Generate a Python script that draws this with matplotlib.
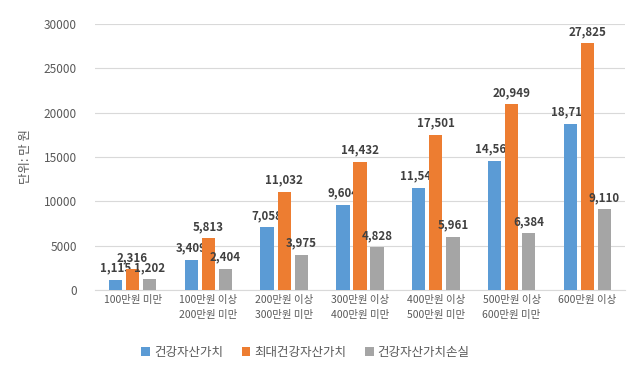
import matplotlib.pyplot as plt
import numpy as np

plt.rcParams['font.family'] = ['Noto Sans CJK KR', 'DejaVu Sans']

categories = ['100만원 미만', '100만원 이상\n200만원 미만', '200만원 이상\n300만원 미만',
              '300만원 이상\n400만원 미만', '400만원 이상\n500만원 미만', '500만원 이상\n600만원 미만',
              '600만원 이상']
series_names = ['건강자산가치', '최대건강자산가치', '건강자산가치손실']
health_value = [1115, 3409, 7058, 9604, 11541, 14565, 18715]
max_health_value = [2316, 5813, 11032, 14432, 17501, 20949, 27825]
health_loss = [1202, 2404, 3975, 4828, 5961, 6384, 9110]
colors = ['#5B9BD5', '#ED7D31', '#A5A5A5']

fig = plt.figure(figsize=(6.4, 3.74), dpi=100)
ax = fig.add_axes([0.148, 0.2246, 0.829, 0.7114])

x = np.arange(len(categories))
w = 0.176
step = 0.225
for i, (vals, name) in enumerate(zip([health_value, max_health_value, health_loss], series_names)):
    pos = x + (i - 1) * step
    ax.bar(pos, vals, width=w, color=colors[i], label=name, zorder=3)
    for p, v in zip(pos, vals):
        ax.text(p, v + 600, f'{v:,}', ha='center', va='bottom', fontsize=8.3,
                color='#404040', fontweight='bold')

ax.set_ylim(0, 30000)
ax.set_xlim(-0.5, len(categories) - 0.5)
ax.set_yticks(np.arange(0, 30001, 5000))
ax.yaxis.grid(True, color='#D9D9D9', linewidth=0.8, zorder=0)
for s in ['top', 'right', 'left']:
    ax.spines[s].set_visible(False)
ax.spines['bottom'].set_color('#D9D9D9')
ax.tick_params(axis='both', length=0, colors='#595959')
ax.tick_params(axis='x', labelsize=7.5)
ax.tick_params(axis='y', labelsize=8.5, pad=13)
ax.set_xticks(x)
ax.set_xticklabels(categories, linespacing=1.6)
ax.set_ylabel('단위: 만 원', color='#595959', fontsize=9, labelpad=8)

fig.legend(loc='center', bbox_to_anchor=(0.477, 0.058), ncol=3, frameon=False,
           fontsize=9, handlelength=0.7, handleheight=0.7, columnspacing=1.5,
           handletextpad=0.3, labelcolor='#595959')

fig.savefig('out.png', dpi=100)
